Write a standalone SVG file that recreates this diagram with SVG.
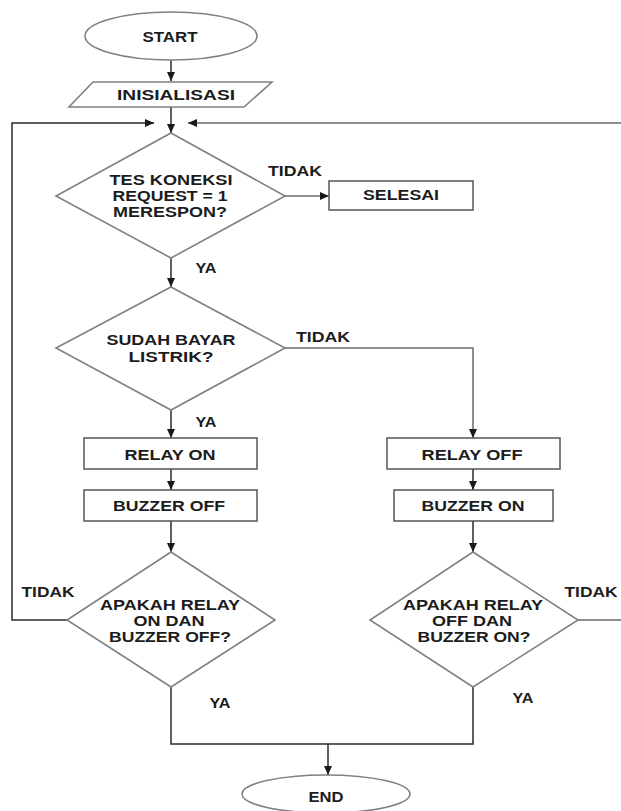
<svg xmlns="http://www.w3.org/2000/svg" width="621" height="811" viewBox="0 0 621 811">
<style>
  .shape { fill: #ffffff; stroke: #808080; stroke-width: 1.6; }
  .box { fill: #ffffff; stroke: #555555; stroke-width: 1.5; }
  .line { fill: none; stroke: #2a2a2a; stroke-width: 1.5; }
  .gline { fill: none; stroke: #6a6a6a; stroke-width: 1.5; }
  text { font-family: "Liberation Sans", Arial, sans-serif; font-weight: bold; font-size: 14px; fill: #1c1c1c; text-anchor: middle; }
</style>
<defs>
  <marker id="arrow" markerUnits="userSpaceOnUse" markerWidth="10" markerHeight="9" refX="9" refY="4" orient="auto">
    <path d="M0,0 L9,4 L0,8 z" fill="#1a1a1a"/>
  </marker>
</defs>
<rect width="621" height="811" fill="#ffffff"/>

<g id="connectors">
  <path class="line" d="M171,60 V81" marker-end="url(#arrow)"/>
  <path class="line" d="M171,107 V133" marker-end="url(#arrow)"/>
  <path class="line" d="M67,620 H12 V123 H154" marker-end="url(#arrow)"/>
  <path class="gline" d="M578,620 H640 V123 H188" marker-end="url(#arrow)"/>
  <path class="gline" d="M285,196 H329" marker-end="url(#arrow)"/>
  <path class="line" d="M171,258 V287" marker-end="url(#arrow)"/>
  <path class="line" d="M171,410 V438" marker-end="url(#arrow)"/>
  <path class="gline" d="M285,348 H473 V438" marker-end="url(#arrow)"/>
  <path class="line" d="M171,469 V490" marker-end="url(#arrow)"/>
  <path class="line" d="M473,469 V490" marker-end="url(#arrow)"/>
  <path class="line" d="M171,521 V552" marker-end="url(#arrow)"/>
  <path class="line" d="M473,521 V552" marker-end="url(#arrow)"/>
  <path class="line" d="M171,687 V744 H473 V687"/>
  <path class="line" d="M328,744 V775" marker-end="url(#arrow)"/>
  <text x="295" y="176" textLength="54" lengthAdjust="spacingAndGlyphs">TIDAK</text>
  <text x="206" y="273" textLength="21" lengthAdjust="spacingAndGlyphs">YA</text>
  <text x="323" y="342" textLength="54" lengthAdjust="spacingAndGlyphs">TIDAK</text>
  <text x="206" y="427" textLength="21" lengthAdjust="spacingAndGlyphs">YA</text>
  <text x="48" y="597" textLength="53" lengthAdjust="spacingAndGlyphs">TIDAK</text>
  <text x="591" y="597" textLength="53" lengthAdjust="spacingAndGlyphs">TIDAK</text>
  <text x="220" y="708" textLength="21" lengthAdjust="spacingAndGlyphs">YA</text>
  <text x="523" y="703" textLength="21" lengthAdjust="spacingAndGlyphs">YA</text>
</g>

<g id="start">
  <ellipse class="shape" cx="171" cy="36" rx="86" ry="24"/>
  <text x="170" y="42" textLength="55" lengthAdjust="spacingAndGlyphs">START</text>
</g>

<g id="inisialisasi">
  <polygon class="shape" points="93,82 272,82 244,107 69,107"/>
  <text x="176" y="100" textLength="118" lengthAdjust="spacingAndGlyphs">INISIALISASI</text>
</g>

<g id="tes-koneksi">
  <polygon class="shape" points="171,133 285,196 171,258 56,196"/>
  <text x="171" y="185" textLength="123" lengthAdjust="spacingAndGlyphs">TES KONEKSI</text>
  <text x="170" y="201" textLength="115" lengthAdjust="spacingAndGlyphs">REQUEST = 1</text>
  <text x="170" y="217" textLength="114" lengthAdjust="spacingAndGlyphs">MERESPON?</text>
</g>

<g id="selesai">
  <rect class="box" x="329" y="181" width="144" height="29"/>
  <text x="401" y="200" textLength="76" lengthAdjust="spacingAndGlyphs">SELESAI</text>
</g>

<g id="sudah-bayar">
  <polygon class="shape" points="171,287 285,348 171,410 56,348"/>
  <text x="171" y="345" textLength="129" lengthAdjust="spacingAndGlyphs">SUDAH BAYAR</text>
  <text x="171" y="362" textLength="85" lengthAdjust="spacingAndGlyphs">LISTRIK?</text>
</g>

<g id="relay-on">
  <rect class="box" x="84" y="438" width="173" height="31"/>
  <text x="170" y="460" textLength="91" lengthAdjust="spacingAndGlyphs">RELAY ON</text>
</g>

<g id="relay-off">
  <rect class="box" x="387" y="438" width="173" height="31"/>
  <text x="472" y="460" textLength="101" lengthAdjust="spacingAndGlyphs">RELAY OFF</text>
</g>

<g id="buzzer-off">
  <rect class="box" x="84" y="490" width="173" height="31"/>
  <text x="169" y="511" textLength="112" lengthAdjust="spacingAndGlyphs">BUZZER OFF</text>
</g>

<g id="buzzer-on">
  <rect class="box" x="394" y="490" width="159" height="31"/>
  <text x="473" y="511" textLength="103" lengthAdjust="spacingAndGlyphs">BUZZER ON</text>
</g>

<g id="cek-relay-on">
  <polygon class="shape" points="171,552 275,620 171,687 67,620"/>
  <text x="170" y="610" textLength="140" lengthAdjust="spacingAndGlyphs">APAKAH RELAY</text>
  <text x="169" y="626" textLength="71" lengthAdjust="spacingAndGlyphs">ON DAN</text>
  <text x="170" y="642" textLength="122" lengthAdjust="spacingAndGlyphs">BUZZER OFF?</text>
</g>

<g id="cek-relay-off">
  <polygon class="shape" points="473,552 578,620 473,687 370,620"/>
  <text x="473" y="610" textLength="140" lengthAdjust="spacingAndGlyphs">APAKAH RELAY</text>
  <text x="472" y="626" textLength="80" lengthAdjust="spacingAndGlyphs">OFF DAN</text>
  <text x="474" y="642" textLength="113" lengthAdjust="spacingAndGlyphs">BUZZER ON?</text>
</g>

<g id="end">
  <ellipse class="shape" cx="326" cy="794" rx="84" ry="19"/>
  <text x="326" y="802" textLength="35" lengthAdjust="spacingAndGlyphs">END</text>
</g>
</svg>
